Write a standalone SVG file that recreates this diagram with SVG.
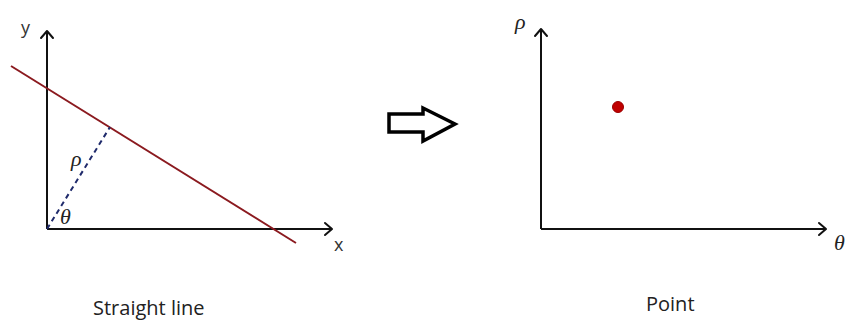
<svg xmlns="http://www.w3.org/2000/svg" width="845" height="322" viewBox="0 0 845 322">
<defs>
<style>
.axis{stroke:#111;stroke-width:2;fill:none}
.head{stroke:#111;stroke-width:2;fill:none;stroke-linecap:round;stroke-linejoin:round}
.greek{font-family:"Liberation Serif","DejaVu Serif",serif;font-style:italic;font-size:22px;fill:#222}
.lbl{font-family:"Open Sans","Liberation Sans",sans-serif;font-size:20px;fill:#222}
.ax{font-family:"Open Sans","Liberation Sans",sans-serif;font-size:18px;fill:#333}
</style>
</defs>
<rect width="845" height="322" fill="#fff"/>
<g id="left-plot">
<line class="axis" x1="47" y1="229" x2="47" y2="31"/>
<polyline class="head" points="41,38 47,31 53,38"/>
<line class="axis" x1="47" y1="229" x2="332" y2="229"/>
<polyline class="head" points="325,223 332,229 325,235"/>
<text class="ax" x="21" y="34">y</text>
<text class="ax" x="334" y="251">x</text>
<line x1="11" y1="66" x2="296" y2="243" stroke="#8b1a1f" stroke-width="2"/>
<line x1="47" y1="229" x2="110" y2="127" stroke="#1f2a6b" stroke-width="2" stroke-dasharray="5,4"/>
<text class="greek" x="71" y="166">ρ</text>
<text class="greek" x="60" y="224">θ</text>
</g>
<g id="transform-arrow">
<path d="M389,114 H423 V108 L455,124 L423,141 V132 H389 Z" fill="#fff" stroke="#000" stroke-width="3.5" stroke-linejoin="miter"/>
</g>
<g id="right-plot">
<line class="axis" x1="541" y1="229" x2="541" y2="29"/>
<polyline class="head" points="535,36 541,29 547,36"/>
<line class="axis" x1="541" y1="229" x2="826" y2="229"/>
<polyline class="head" points="819,223 826,229 819,235"/>
<text class="greek" x="515" y="29">ρ</text>
<text class="greek" x="834" y="250">θ</text>
<circle cx="618" cy="107" r="5.5" fill="#c00000" stroke="#9b0000" stroke-width="1"/>
</g>
<text class="lbl" x="93" y="315">Straight line</text>
<text class="lbl" x="646" y="311">Point</text>
</svg>
